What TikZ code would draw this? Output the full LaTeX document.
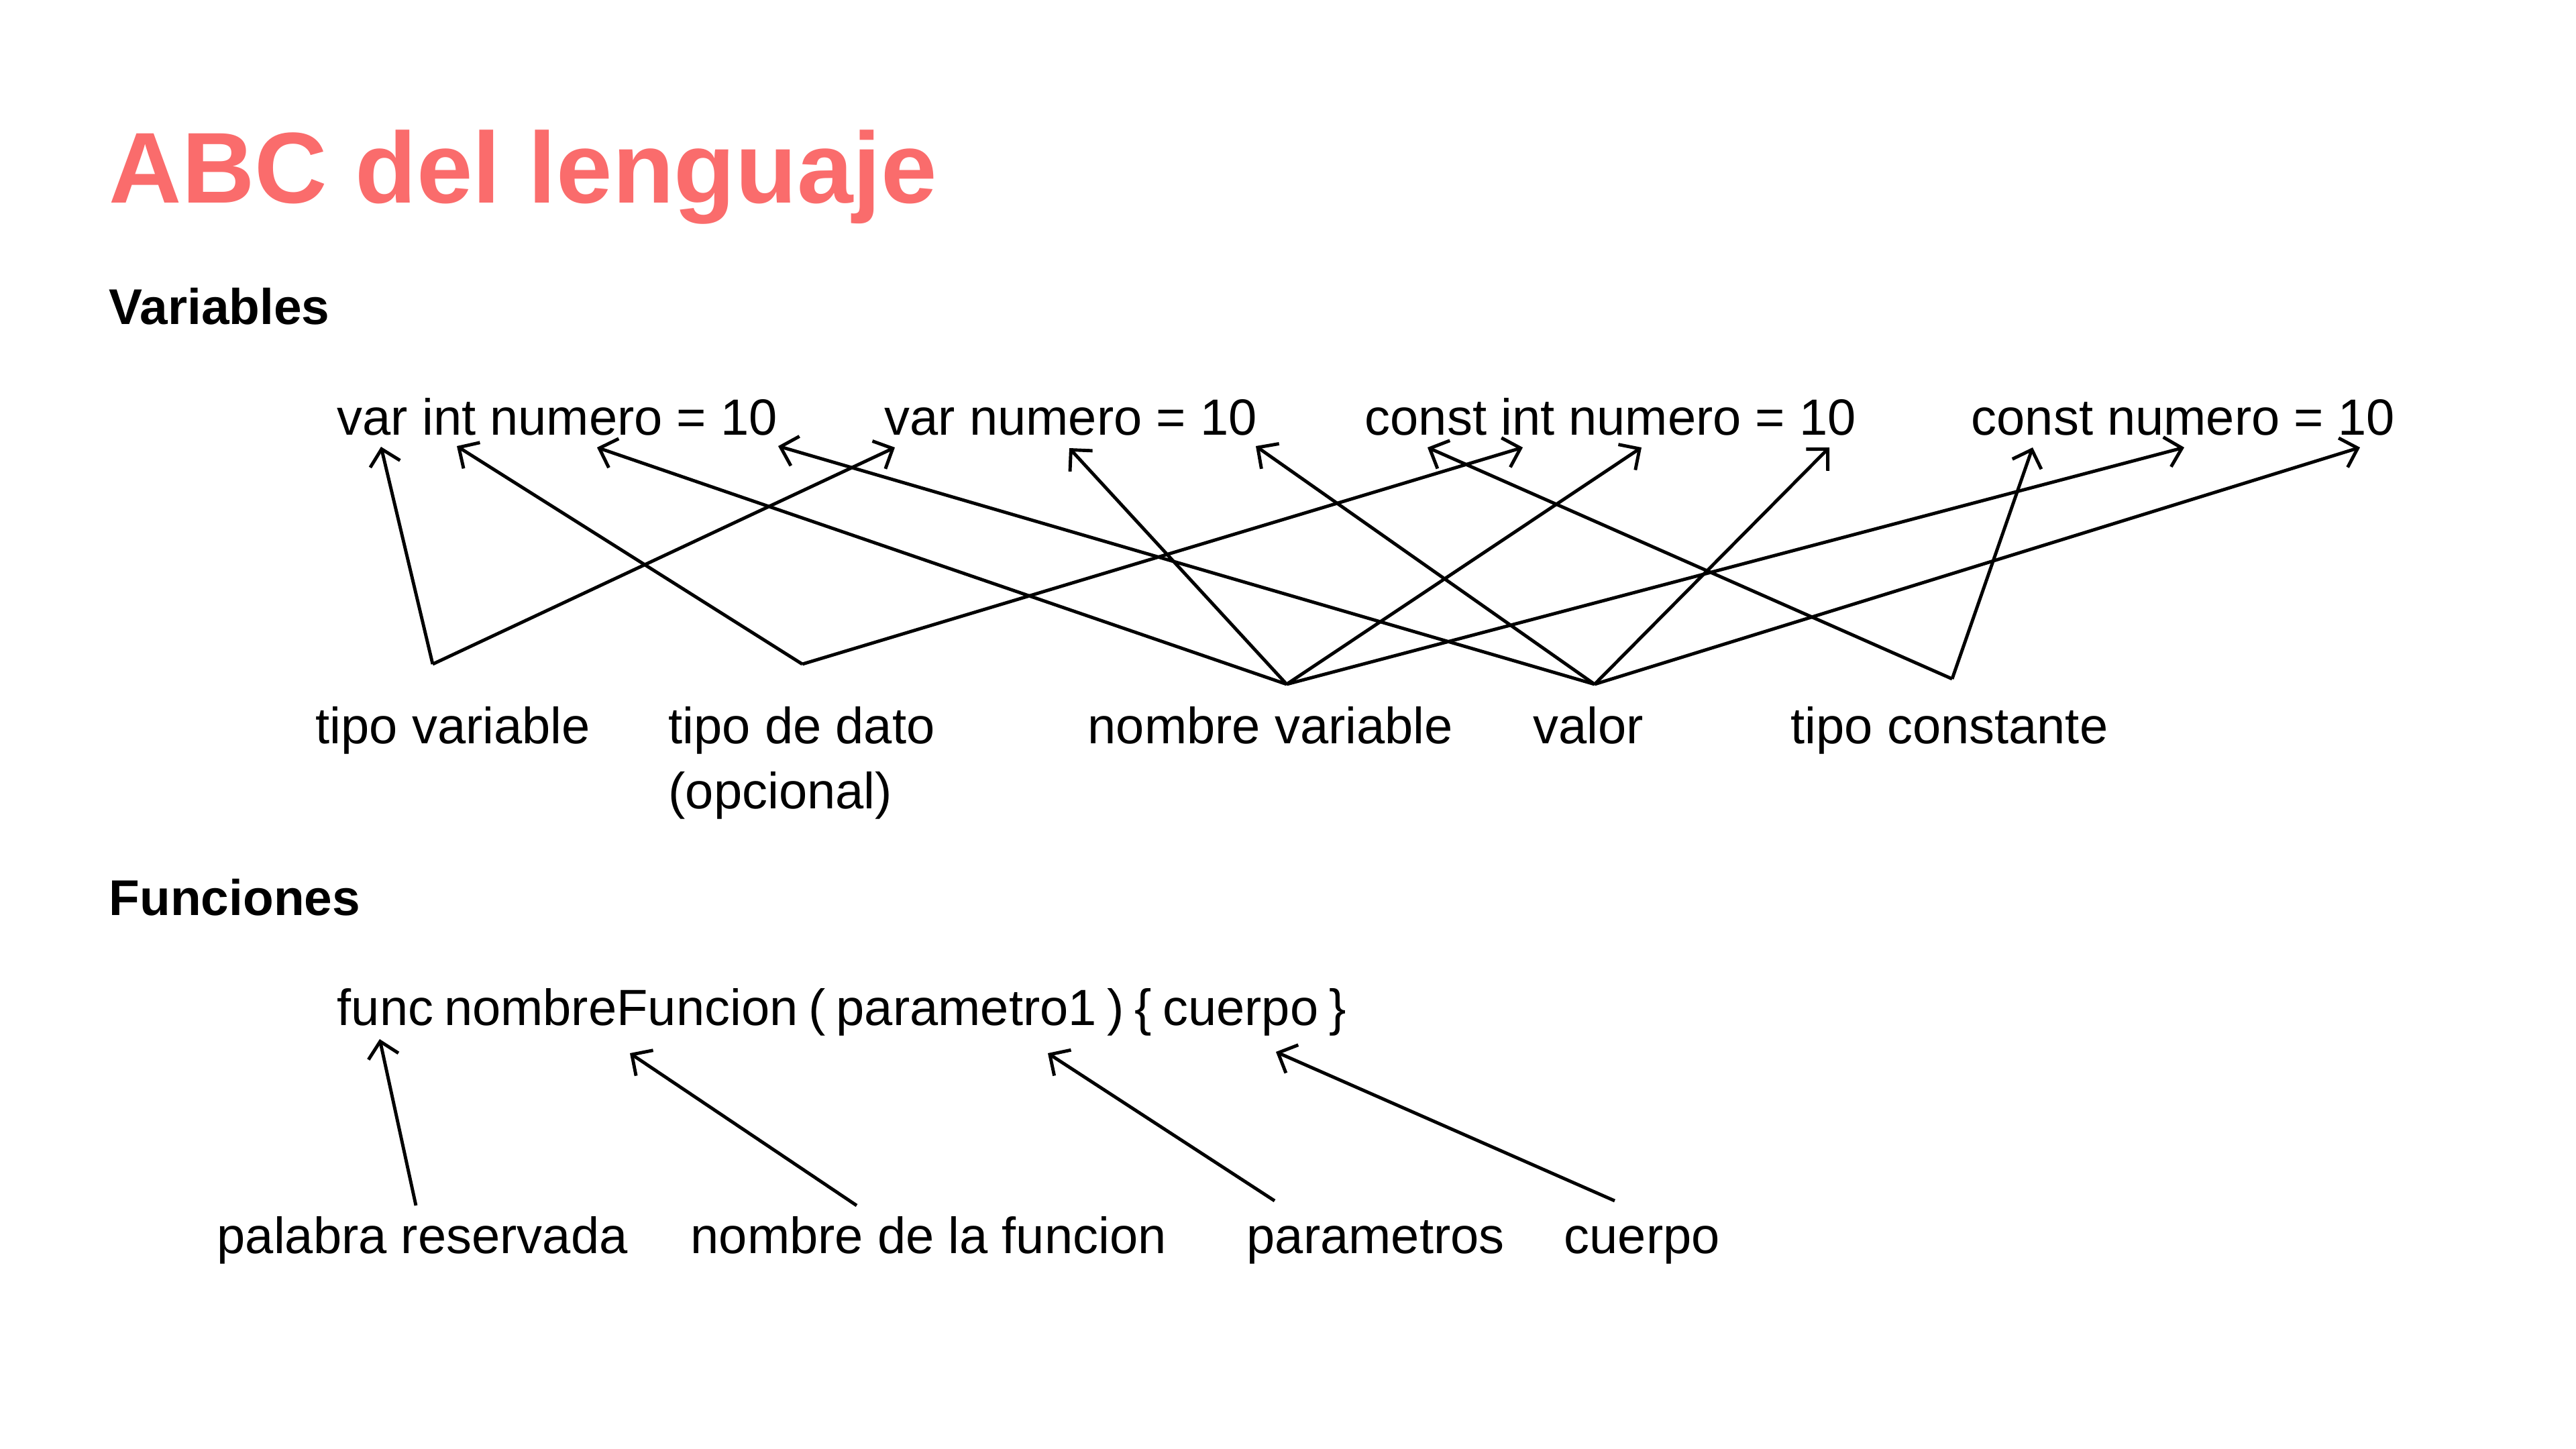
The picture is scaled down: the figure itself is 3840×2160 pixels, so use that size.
\documentclass[tikz,border=0pt]{standalone}
\usepackage{fontspec}
\setmainfont{Liberation Sans}
\usetikzlibrary{arrows.meta}
\definecolor{salmon}{RGB}{250,108,108}
\tikzset{
  codigo/.style={anchor=base west, inner sep=0pt, font=\fontsize{21.6}{26}\selectfont},
  seccion/.style={anchor=base west, inner sep=0pt, font=\fontsize{21.3}{26}\selectfont\bfseries},
  flecha/.style={-{Straight Barb[length=6.5pt,width=13pt]}, line width=1.4pt},
}

\begin{document}
\begin{tikzpicture}[x=0.1mm,y=-0.1mm]
\fill[white] (0,0) rectangle (3840,2160);
\useasboundingbox (0,0) rectangle (3840,2160);

\node[anchor=base west, inner sep=0pt, text=salmon, font=\fontsize{42.7}{50}\selectfont\bfseries] (titulo) at (162,302) {ABC del lenguaje};
\node[seccion] (variables) at (162,483) {Variables};
\node[seccion] (funciones) at (162,1364) {Funciones};

% declaraciones
\node[codigo] (V-1) at (502,648) {var int numero = 10};
\node[codigo] (V-2) at (1318,648) {var numero = 10};
\node[codigo] (V-3) at (2034,648) {const int numero = 10};
\node[codigo] (V-4) at (2938,648) {const numero = 10};

% etiquetas
\node[codigo] (tvar) at (470,1108) {tipo variable};
\node[codigo] (tdato) at (996,1108) {tipo de dato};
\node[codigo] (opc) at (996,1205) {(opcional)};
\node[codigo] (nom) at (1621,1108) {nombre variable};
\node[codigo] (val) at (2285,1108) {valor};
\node[codigo] (tcon) at (2669,1108) {tipo constante};

% puntos de salida
\coordinate (o-tvar) at (645,990);
\coordinate (o-tdato) at (1196,990);
\coordinate (o-nom) at (1918,1020);
\coordinate (o-val) at (2377,1020);
\coordinate (o-tcon) at (2910,1012);

% puntos de llegada
\coordinate (p-var1) at (568,666);
\coordinate (p-var2) at (1334,667);
\coordinate (p-int1) at (681,665);
\coordinate (p-int3) at (2270,667);
\coordinate (p-num1) at (890,667);
\coordinate (p-num2) at (1594,668);
\coordinate (p-num3) at (2447,667);
\coordinate (p-num4) at (3256,667);
\coordinate (p-diez1) at (1160,665);
\coordinate (p-diez2) at (1872,665);
\coordinate (p-diez3) at (2727,667);
\coordinate (p-diez4) at (3518,667);
\coordinate (p-const3) at (2128,667);
\coordinate (p-const4) at (3030,667);

\foreach \desde/\hasta in {tvar/var1,tvar/var2,tdato/int1,tdato/int3,
  nom/num1,nom/num2,nom/num3,nom/num4,val/diez1,val/diez2,val/diez3,val/diez4,
  tcon/const3,tcon/const4}
  \draw[flecha] (o-\desde) -- (p-\hasta);

% funcion
\node[codigo] (F) at (502,1528) {\spaceskip=0.21em\relax func nombreFuncion ( parametro1 ) \{ cuerpo \}};
\node[codigo] (pres) at (323,1868) {palabra reservada};
\node[codigo] (nfun) at (1029,1868) {nombre de la funcion};
\node[codigo] (par) at (1858,1868) {parametros};
\node[codigo] (cue) at (2331,1868) {cuerpo};

\coordinate (o-pres) at (620,1797);
\coordinate (o-nfun) at (1277,1797);
\coordinate (o-par) at (1900,1790);
\coordinate (o-cue) at (2407,1790);
\coordinate (p-pres) at (566,1549);
\coordinate (p-nfun) at (939,1570);
\coordinate (p-par) at (1562,1570);
\coordinate (p-cue) at (1902,1568);

\foreach \n in {pres,nfun,par,cue}
  \draw[flecha] (o-\n) -- (p-\n);
\end{tikzpicture}
\end{document}
